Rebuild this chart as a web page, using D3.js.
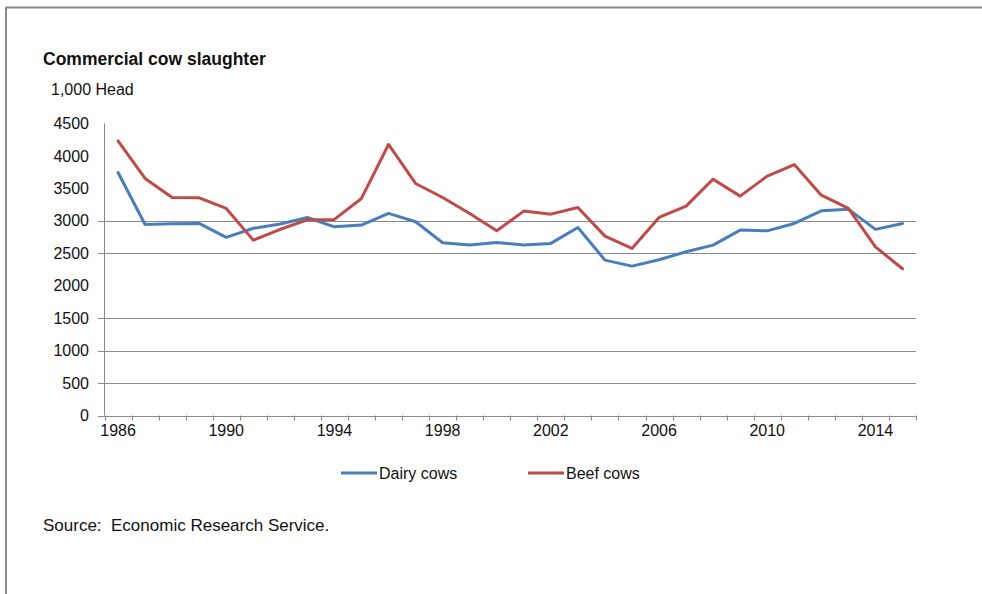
<!DOCTYPE html>
<html>
<head>
<meta charset="utf-8">
<script src="https://cdn.jsdelivr.net/npm/d3@7"></script>
<style>
  html, body { margin: 0; padding: 0; background: #fff; }
  svg { display: block; }
  text { font-family: "Liberation Sans", Arial, sans-serif; fill: #111; }
</style>
</head>
<body>
<svg id="chart" width="982" height="594"></svg>
<script>
// Commercial cow slaughter, 1,000 head
const years = [1986, 1987, 1988, 1989, 1990, 1991, 1992, 1993, 1994, 1995,
               1996, 1997, 1998, 1999, 2000, 2001, 2002, 2003, 2004, 2005,
               2006, 2007, 2008, 2009, 2010, 2011, 2012, 2013, 2014, 2015];
const dairyCows = [3745, 2944, 2955, 2960, 2745, 2885, 2950, 3052, 2908, 2934,
                   3114, 2985, 2662, 2626, 2667, 2626, 2652, 2898, 2395, 2302,
                   2400, 2523, 2626, 2857, 2846, 2960, 3154, 3180, 2868, 2960];
const beefCows  = [4232, 3653, 3360, 3355, 3191, 2703, 2870, 3015, 3022, 3345,
                   4177, 3576, 3360, 3114, 2846, 3150, 3103, 3206, 2764, 2575,
                   3052, 3227, 3642, 3381, 3689, 3868, 3396, 3191, 2600, 2261];
const yTicks = [0, 500, 1000, 1500, 2000, 2500, 3000, 3500, 4000, 4500];
const gridValues = [500, 1000, 1500, 2500, 3000];
const xLabels = [1986, 1990, 1994, 1998, 2002, 2006, 2010, 2014];
const seriesNames = ["Dairy cows", "Beef cows"];
const seriesColors = ["#4a7ebb", "#be4b48"];

const svg = d3.select("#chart");
const grey = "#8a8a8a";

// outer frame (top and left edges)
svg.append("line").attr("x1", 6).attr("x2", 982).attr("y1", 7.5).attr("y2", 7.5)
  .attr("stroke", grey).attr("stroke-width", 2);
svg.append("line").attr("x1", 6).attr("x2", 6).attr("y1", 7).attr("y2", 594)
  .attr("stroke", grey).attr("stroke-width", 2);

const x = d3.scaleBand().domain(years).range([104.5, 916]).paddingInner(0).paddingOuter(0);
const cx = d => x(d) + x.bandwidth() / 2;
const y = d3.scaleLinear().domain([0, 4500]).range([415.5, 123.5]);

// title and unit
svg.append("text").attr("x", 43).attr("y", 65)
  .style("font-weight", "bold").style("font-size", "17.5px")
  .text("Commercial cow slaughter");
svg.append("text").attr("x", 51).attr("y", 95)
  .style("font-size", "16px").text("1,000 Head");

// horizontal gridlines
svg.append("g").selectAll("line").data(gridValues).join("line")
  .attr("x1", 98).attr("x2", 916)
  .attr("y1", d => Math.round(y(d)) + 0.5).attr("y2", d => Math.round(y(d)) + 0.5)
  .attr("stroke", grey).attr("stroke-width", 1);

// y axis labels
const yAxis = d3.axisLeft(y).tickValues(yTicks).tickSize(0).tickPadding(0)
  .tickFormat(d3.format("d"));
const gy = svg.append("g").attr("transform", "translate(89,0)").call(yAxis);
gy.select(".domain").remove();
gy.selectAll("text").style("font-size", "16px").attr("fill", "#111")
  .style("font-family", "'Liberation Sans', Arial, sans-serif");

// y axis line
svg.append("line").attr("x1", 104.5).attr("x2", 104.5)
  .attr("y1", y(4500)).attr("y2", y(0))
  .attr("stroke", grey).attr("stroke-width", 1);

// x axis line with boundary ticks
svg.append("line").attr("x1", 98).attr("x2", 916)
  .attr("y1", Math.round(y(0)) + 0.5).attr("y2", Math.round(y(0)) + 0.5)
  .attr("stroke", grey).attr("stroke-width", 1);
const bounds = years.map(d => x(d)).concat([x.range()[1]]);
svg.append("g").selectAll("line").data(bounds).join("line")
  .attr("x1", d => Math.round(d) + 0.5).attr("x2", d => Math.round(d) + 0.5)
  .attr("y1", y(0)).attr("y2", y(0) + 5)
  .attr("stroke", grey).attr("stroke-width", 1);

// x axis labels
const xAxis = d3.axisBottom(x).tickValues(xLabels).tickSize(0).tickPadding(0);
const gx = svg.append("g").attr("transform", "translate(0,424)").call(xAxis);
gx.select(".domain").remove();
gx.selectAll("text").style("font-size", "16px").attr("fill", "#111").attr("dy", "0.75em")
  .style("font-family", "'Liberation Sans', Arial, sans-serif");

// series lines
const line = d3.line().x((d, i) => cx(years[i])).y(d => y(d));
[dairyCows, beefCows].forEach((s, k) => {
  svg.append("path").datum(s).attr("d", line)
    .attr("fill", "none").attr("stroke", seriesColors[k])
    .attr("stroke-width", 3).attr("stroke-linejoin", "round").attr("stroke-linecap", "round");
});

// legend
const legendX = [341, 528];
seriesNames.forEach((name, k) => {
  const g = svg.append("g").attr("transform", `translate(${legendX[k]},473)`);
  g.append("line").attr("x1", 0).attr("x2", 36).attr("y1", 0).attr("y2", 0)
    .attr("stroke", seriesColors[k]).attr("stroke-width", 3);
  g.append("text").attr("x", 38).attr("y", 5.5).style("font-size", "16px").text(name);
});

// source note
svg.append("text").attr("x", 43).attr("y", 531)
  .style("font-size", "17px").style("white-space", "pre")
  .text("Source:  Economic Research Service.");
</script>
</body>
</html>
